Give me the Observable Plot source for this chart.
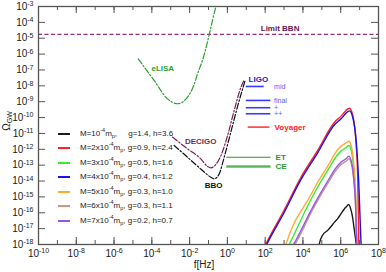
<!DOCTYPE html>
<html><head><meta charset="utf-8">
<script src="https://cdn.jsdelivr.net/npm/d3@7"></script>
<script src="https://cdn.jsdelivr.net/npm/@observablehq/plot@0.6"></script>
<style>
body{margin:0;background:#fff;font-family:"Liberation Sans",Arial,sans-serif;}
#wrap{position:relative;width:386px;height:272px;overflow:hidden}
#legend{position:absolute;left:0;top:0;font-size:8px;color:#222;}
.row{position:absolute;white-space:pre;line-height:10px;height:10px}
.sw{position:absolute;width:12px;height:0;border-top:2px solid}
sup{font-size:5.5px;vertical-align:4px;line-height:0}
sub{font-size:5.5px;vertical-align:-2px;line-height:0}
</style></head><body><div id="wrap"></div>
<script>
// axis ticks (exponents of 10)
const xTickExp = [-10,-9,-8,-7,-6,-5,-4,-3,-2,-1,0,1,2,3,4,5,6,7,8];
const xLabelExp = [-10,-8,-6,-4,-2,0,2,4,6,8];
const yLabelExp = [-18,-17,-16,-15,-14,-13,-12,-11,-10,-9,-8,-7,-6,-5,-4,-3];

// GW spectra: log10 f and log10 Omega
const m1F = [4.82,4.87,5.05,5.31,5.50,5.67,5.85,6.02,6.20,6.30,6.41,6.55,6.62,6.70,6.82,6.86];
const m1O = [-18.3,-17.95,-17.4,-17.11,-16.85,-16.59,-16.35,-16.06,-15.75,-15.62,-15.48,-15.85,-16.23,-16.9,-17.95,-18.3];
const m2F = [1.95,2.03,3.0,3.90,4.78,5.67,6.02,6.28,6.46,6.64,6.82,6.90,6.96,7.0];
const m2O = [-18.2,-18,-15.85,-13.75,-12.07,-10.29,-9.91,-9.55,-9.41,-9.87,-11.76,-13.75,-18,-18.8];
const m3F = [3.2,3.28,4.43,4.70,5.49,5.67,6.02,6.28,6.43,6.55,6.68,6.78,6.87,6.9];
const m3O = [-18.2,-18,-15.15,-14.55,-12.97,-12.6,-12.1,-11.9,-11.76,-12.05,-13.1,-14.8,-18,-18.5];
const m4F = [2.0,2.08,3.0,3.90,4.78,5.67,6.02,6.28,6.46,6.64,6.82,6.95,7.08,7.12];
const m4O = [-18.2,-18,-16.0,-13.9,-12.22,-10.45,-10.08,-9.72,-9.58,-10.0,-11.5,-14.0,-18,-18.8];
const m5F = [3.05,3.10,4.43,4.70,5.49,5.67,6.02,6.28,6.43,6.55,6.68,6.78,6.87,6.9];
const m5O = [-18.2,-18,-14.85,-14.25,-12.7,-12.3,-11.8,-11.6,-11.49,-11.76,-12.8,-14.5,-18,-18.5];
const m6F = [3.48,3.58,4.43,4.70,5.49,5.67,6.02,6.28,6.43,6.55,6.68,6.78,6.85,6.88];
const m6O = [-18.2,-18,-16.0,-15.4,-13.8,-13.45,-12.95,-12.75,-12.6,-12.85,-13.8,-15.4,-18,-18.5];
const m7F = [3.4,3.5,4.43,4.70,5.49,5.67,6.02,6.28,6.43,6.55,6.68,6.78,6.85,6.88];
const m7O = [-18.2,-18,-15.85,-15.25,-13.65,-13.3,-12.8,-12.6,-12.43,-12.7,-13.7,-15.3,-18,-18.5];
const massNames = ["1e-4","2e-4","3e-4","4e-4","5e-4","6e-4","7e-4"];
const massMult = ["","2x","3x","4x","5x","6x","7x"];
const gVals = ["1.4","0.9","0.5","0.4","0.3","0.3","0.2"];
const hVals = ["3.6","2.4","1.6","1.2","1.0","1.1","0.7"];

// detector sensitivity curves (log10 f, log10 Omega)
const elisaF = [-4.72,-3.88,-3.17,-2.64,-2.11,-1.78,-1.58,-1.32,-0.61,-0.5];
const elisaO = [-6.3,-7.66,-8.82,-9.13,-8.71,-7.98,-7.24,-6.40,-3.0,-2.5];
const decigoF = [-2.91,-2.11,-1.41,-1.05,-0.875,-0.61,-0.34,0.01,0.36,0.72,0.88];
const decigoO = [-11.23,-11.97,-12.60,-13.08,-13.17,-12.96,-12.39,-11.13,-9.55,-8.08,-7.65];
const bboF = [-2.82,-2.11,-1.41,-0.875,-0.70,-0.43,-0.17,0.19,0.54,0.95];
const bboO = [-11.76,-12.50,-13.24,-13.76,-13.86,-13.54,-12.50,-10.88,-9.3,-7.62];
const bbnO = -4.76;
const ligoNames = ["mid","final","+","++"];
const ligoF0 = [1.0,1.0,1.0,1.0];
const ligoF1 = [1.95,2.3,2.3,2.3];
const ligoO = [-8.04,-8.92,-9.38,-9.76];
const voyagerF = [1.1,2.25], voyagerO = -10.6;
const etF = [-0.03,2.31], etO = -12.5;
const ceF = [-0.03,2.31], ceO = -13.08;

const colors = ["#1a1a1a","#ff2020","#33ee33","#1515e8","#ffaa33","#c89494","#9955dd"];
const P = v => Math.pow(10, v);

const spectra = [];
[[m1F,m1O],[m2F,m2O],[m3F,m3O],[m4F,m4O],[m5F,m5O],[m6F,m6O],[m7F,m7O]].forEach(([F,O],i)=>{
  F.forEach((f,j)=>spectra.push({s:massNames[i], f:P(f), o:P(O[j])}));
});
const pts = (F,O)=>F.map((f,j)=>({f:P(f), o:P(O[j])}));

const ligo = ligoNames.map((n,i)=>({n, f0:P(ligoF0[i]), f1:P(ligoF1[i]), o:P(ligoO[i])}));

const W=386,H=272,mL=38,mR=8,mT=6,mB=28;
const iw=W-mL-mR, ih=H-mT-mB;
const font = "Liberation Sans, Arial, sans-serif";
const lbl = (text, f, o, opts) => Plot.text([{text,f:P(f),o:P(o)}], {x:"f", y:"o", text:"text", fontFamily:font, fontSize:8, fontWeight:"bold", ...opts});

const chart = Plot.plot({
  width:W, height:H, marginLeft:mL, marginRight:mR, marginTop:mT, marginBottom:mB,
  style:{fontFamily:font, fontSize:"10px", color:"#222", background:"#fff"},
  x:{type:"log", domain:[1e-10,1e8], ticks:xLabelExp.map(P), tickFormat:d=>"10^"+Math.round(Math.log10(d)), tickSize:0, tickPadding:5, label:null},
  y:{type:"log", domain:[1e-18,1e-3], ticks:yLabelExp.map(P), tickFormat:d=>"10^"+Math.round(Math.log10(d)), tickSize:0, tickPadding:5, label:null},
  marks:[
    Plot.ruleY([P(bbnO)], {stroke:"#9a2a7c", strokeWidth:1.2, strokeDasharray:"4,2.5"}),
    Plot.line(pts(elisaF,elisaO), {x:"f", y:"o", stroke:"#2e9e2e", strokeWidth:1.2, strokeDasharray:"6,2,1.5,2", curve:"monotone-x", clip:true}),
    Plot.line(pts(decigoF,decigoO), {x:"f", y:"o", stroke:"#7b1f5e", strokeWidth:1.2, strokeDasharray:"6,2,1.5,2", curve:"monotone-x", clip:true}),
    Plot.line(pts(bboF,bboO), {x:"f", y:"o", stroke:"#111", strokeWidth:1.2, strokeDasharray:"6,2,1.5,2", curve:"monotone-x", clip:true}),
    Plot.ruleY(ligo, {y:"o", x1:"f0", x2:"f1", stroke:"#3a3aff", strokeWidth:1.6}),
    Plot.ruleY([{o:P(voyagerO), f0:P(voyagerF[0]), f1:P(voyagerF[1])}], {y:"o", x1:"f0", x2:"f1", stroke:"#ff2020", strokeWidth:1.4}),
    Plot.ruleY([{o:P(etO), f0:P(etF[0]), f1:P(etF[1])}], {y:"o", x1:"f0", x2:"f1", stroke:"#2a9a2a", strokeWidth:1.2}),
    Plot.ruleY([{o:P(ceO), f0:P(ceF[0]), f1:P(ceF[1])}], {y:"o", x1:"f0", x2:"f1", stroke:"#5cb85c", strokeWidth:2.4}),
    Plot.line(spectra, {x:"f", y:"o", z:"s", stroke:"s", strokeWidth:1.4, curve:"monotone-x", clip:true}),
    lbl("Limit BBN", 2.79, -4.39, {fill:"#6a1550"}),
    lbl("eLISA", -3.42, -6.91, {fill:"#2e9e2e"}),
    lbl("DECIGO", -1.41, -11.51, {fill:"#7b1f5e"}),
    lbl("BBO", -0.73, -14.28, {fill:"#111"}),
    lbl("LIGO", 1.12, -7.62, {fill:"#2222dd", textAnchor:"start"}),
    Plot.text(ligo, {x:d=>P(ligoF1[1]+0.17), y:"o", text:"n", fill:"#5a5aff", fontSize:7, textAnchor:"start", fontFamily:font}),
    lbl("Voyager", 2.5, voyagerO, {fill:"#ff2020", textAnchor:"start"}),
    lbl("ET", 2.55, etO, {fill:"#2a9a2a", textAnchor:"start"}),
    lbl("CE", 2.55, ceO, {fill:"#2a9a2a", textAnchor:"start"}),
    // inward ticks
    Plot.tickX(xTickExp.map(P), {x:d=>d, insetTop:ih-4, stroke:"#555"}),
    Plot.tickX(xLabelExp.map(P), {x:d=>d, insetTop:ih-7, stroke:"#555"}),
    Plot.tickX(xTickExp.map(P), {x:d=>d, insetBottom:ih-4, stroke:"#555"}),
    Plot.tickX(xLabelExp.map(P), {x:d=>d, insetBottom:ih-7, stroke:"#555"}),
    Plot.tickY(yLabelExp.map(P), {y:d=>d, insetRight:iw-7, stroke:"#555"}),
    Plot.tickY(yLabelExp.map(P), {y:d=>d, insetLeft:iw-7, stroke:"#555"}),
    Plot.frame({stroke:"#555", strokeWidth:1.3})
  ],
  color:{domain:massNames, range:colors}
});

// superscript tick labels
chart.querySelectorAll("text").forEach(t=>{
  const s=t.textContent;
  if(/^10\^-?\d+$/.test(s)){
    t.textContent="10";
    const ts=document.createElementNS("http://www.w3.org/2000/svg","tspan");
    ts.setAttribute("dy","-0.5em"); ts.setAttribute("font-size","0.7em");
    ts.textContent=s.slice(3);
    t.appendChild(ts);
  }
});
const svg = d3.select(chart);
const yl = svg.append("text").attr("transform","translate(10,121) rotate(-90)").attr("text-anchor","middle")
  .attr("font-family",font).attr("font-size",10).attr("fill","#222");
yl.append("tspan").text("Ω");
yl.append("tspan").attr("font-size",7).attr("dy","0.35em").text("GW");
svg.append("text").attr("x",204).attr("y",268).attr("text-anchor","middle")
  .attr("font-family",font).attr("font-size",10).attr("fill","#222").text("f[Hz]");

const wrap=document.getElementById("wrap");
wrap.appendChild(chart);
const leg=document.createElement("div"); leg.id="legend"; wrap.appendChild(leg);
massNames.forEach((n,i)=>{
  const y=133.5+14.5*i;
  const sw=document.createElement("div"); sw.className="sw";
  sw.style.left="58px"; sw.style.top=(y-1)+"px"; sw.style.borderTopColor=colors[i];
  leg.appendChild(sw);
  const r=document.createElement("div"); r.className="row";
  r.style.left="80px"; r.style.top=(y-5)+"px";
  r.innerHTML="M="+massMult[i]+"10<sup>-4</sup>m<sub>p</sub>,"+(i===0?"     ":" ")+"g="+gVals[i]+", h="+hVals[i];
  leg.appendChild(r);
});
</script></body></html>
